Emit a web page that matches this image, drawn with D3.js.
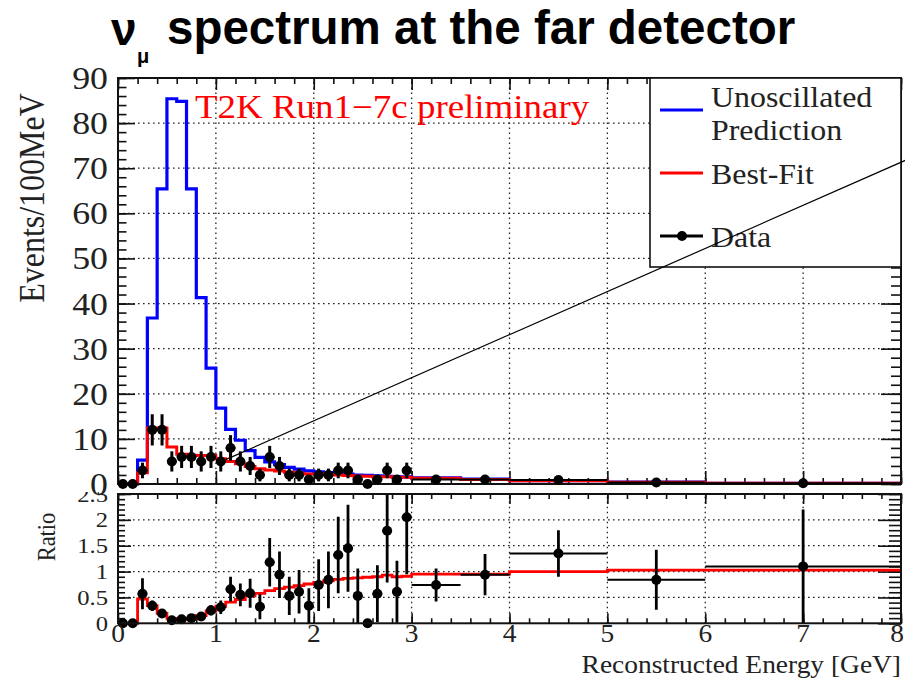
<!DOCTYPE html>
<html><head><meta charset="utf-8">
<script src="https://cdn.jsdelivr.net/npm/d3@7"></script>
<style>body{margin:0;background:#fff}</style>
</head><body><svg id="c" width="905" height="681" xmlns="http://www.w3.org/2000/svg"></svg>
<script>
// ---------------- data ----------------
const binEdges = [0,0.1,0.2,0.3,0.4,0.5,0.6,0.7,0.8,0.9,1.0,1.1,1.2,1.3,1.4,1.5,1.6,1.7,1.8,1.9,2.0,2.1,2.2,2.3,2.4,2.5,2.6,2.7,2.8,2.9,3.0,3.5,4.0,5.0,6.0,8.0];
const unoscillated = [0,0,5.3,36.8,65.4,85.4,84.8,65.4,41.3,25.7,16.8,12.1,9.7,7.4,5.9,4.9,4.3,3.7,3.3,2.9,2.7,2.5,2.3,2.2,2.0,1.9,1.8,1.7,1.6,1.6,1.35,1.06,0.72,0.4,0.15];
const bestFit = [0,0,2.5,12.4,12.4,8.2,6.6,6.4,6.3,6.3,5.6,5.0,4.5,3.9,3.4,3.1,2.9,2.6,2.4,2.2,2.2,2.1,2.0,1.9,1.8,1.7,1.6,1.6,1.5,1.5,1.27,1.0,0.7,0.4,0.16];
const dataCounts = [0,0,3,12,12,5,6,6,5,6,5,8,5,4,2,6,4,2,2,1,2,2,3,3,1,0,1,3,1,3,1.0,1.0,0.9,0.34,0.17];
const dataErrors = [0,0,1.73,3.46,3.46,2.24,2.45,2.45,2.24,2.45,2.24,2.83,2.24,2.0,1.41,2.45,2.0,1.41,1.41,1.0,1.41,1.41,1.73,1.73,1.0,0,1.0,1.73,1.0,1.73,0.45,0.45,0.3,0.19,0.09];
const ratioData = [0,0,0.57,0.34,0.19,0.06,0.08,0.1,0.13,0.25,0.31,0.66,0.55,0.58,0.32,1.18,0.94,0.53,0.61,0.34,0.74,0.84,1.32,1.45,0.53,0,0.57,1.79,0.61,2.05,0.74,0.94,1.35,0.84,1.1];
const ratioErrors = [0,0,0.3,0.1,0.06,0.03,0.03,0.04,0.05,0.1,0.13,0.24,0.22,0.28,0.24,0.47,0.45,0.37,0.42,0.34,0.5,0.55,0.74,0.84,0.53,0,0.55,1.0,0.6,1.1,0.32,0.4,0.45,0.58,1.1];
const ratioBestFit = [0,0,0.47,0.34,0.19,0.096,0.078,0.098,0.15,0.24,0.33,0.41,0.46,0.53,0.58,0.63,0.67,0.7,0.73,0.76,0.79,0.82,0.85,0.87,0.88,0.89,0.9,0.93,0.9,0.91,0.95,0.95,1.0,1.03,1.03];
const xTicks = [0,1,2,3,4,5,6,7,8];
const yTicksMain = [0,10,20,30,40,50,60,70,80,90];
const yTicksRatio = [0,0.5,1,1.5,2,2.5];
const yTickLabelsRatio = ["0","0.5","1","1.5","2","2.5"];
const legendLabels = [["Unoscillated","Prediction"],["Best-Fit"],["Data"]];
const legendColors = ["#0000ff","#ff0000","#000000"];
const guideLine = [[1.1,5.4],[8.05,71.8]];

// ---------------- layout ----------------
const svg = d3.select("#c");
const SX = 1.12;
const serif = "'Liberation Serif','Times New Roman',serif";
const x = d3.scaleLinear([0,8],[118,901]);
const yM = d3.scaleLinear([0,90],[484,78]);
const yR = d3.scaleLinear([0,2.5],[623.3,494]);

function stext(g, px, py, str, size, anchor, color, rot) {
  return g.append("text")
    .attr("transform", `translate(${px},${py}) scale(${SX},1)` + (rot ? ` rotate(${rot})` : ""))
    .attr("text-anchor", anchor || "start")
    .attr("font-family", serif).attr("font-size", size)
    .attr("fill", color || "#222").text(str);
}

const bins = d3.range(binEdges.length - 1).map(i => ({
  lo: binEdges[i], hi: binEdges[i+1], c: (binEdges[i] + binEdges[i+1]) / 2, i
}));

function stepPath(vals, ys) {
  const pts = bins.map(b => [b.lo, vals[b.i]]);
  pts.push([binEdges[binEdges.length-1], vals[vals.length-1]]);
  return d3.line().x(d => x(d[0])).y(d => ys(d[1])).curve(d3.curveStepAfter)(pts);
}

// ---------------- title ----------------
const title = svg.append("g").attr("font-family","'Liberation Sans',Arial,sans-serif").attr("font-weight","bold").attr("fill","#000");
title.append("text").attr("x",111).attr("y",45).attr("font-size",46).text("ν");
title.append("text").attr("x",137).attr("y",63).attr("font-size",20).text("μ");
title.append("text").attr("x",167).attr("y",44).attr("font-size",47.5).text("spectrum at the far detector");

// ---------------- grids ----------------
function grid(g, ys, yvals, y0, y1) {
  g.selectAll(".gv").data(xTicks.slice(1,-1)).join("line")
    .attr("x1", d => x(d)).attr("x2", d => x(d)).attr("y1", y0).attr("y2", y1)
    .attr("stroke","#222").attr("stroke-width",1.3).attr("stroke-dasharray","1.6,3.4");
  g.selectAll(".gh").data(yvals).join("line")
    .attr("x1", x(0)).attr("x2", x(8)).attr("y1", d => ys(d)).attr("y2", d => ys(d))
    .attr("stroke","#222").attr("stroke-width",1.3).attr("stroke-dasharray","1.6,3.4");
}
grid(svg.append("g"), yM, yTicksMain.slice(1,-1), yM(0), yM(90));
grid(svg.append("g"), yR, yTicksRatio.slice(1,-1), yR(0), yR(2.5));

// ---------------- axes ticks ----------------
function ticks(g, axisGen) { g.call(axisGen); g.select(".domain").remove(); g.selectAll("line").attr("stroke","#111").attr("stroke-width",1.6); g.selectAll("text").remove(); }
const gm = svg.append("g");
// main panel
ticks(gm.append("g").attr("transform",`translate(${x(0)},0)`), d3.axisLeft(yM).tickValues(yTicksMain).tickSize(-17));
ticks(gm.append("g").attr("transform",`translate(${x(0)},0)`), d3.axisLeft(yM).tickValues(d3.range(0,90.01,2)).tickSize(-8.5));
ticks(gm.append("g").attr("transform",`translate(${x(8)},0)`), d3.axisRight(yM).tickValues(yTicksMain).tickSize(-20));
ticks(gm.append("g").attr("transform",`translate(${x(8)},0)`), d3.axisRight(yM).tickValues(d3.range(0,90.01,2)).tickSize(-10));
ticks(gm.append("g").attr("transform",`translate(0,${yM(0)})`), d3.axisBottom(x).tickValues(xTicks).tickSize(-13));
ticks(gm.append("g").attr("transform",`translate(0,${yM(0)})`), d3.axisBottom(x).tickValues(d3.range(0,8.01,0.2)).tickSize(-6));
ticks(gm.append("g").attr("transform",`translate(0,${yM(90)})`), d3.axisTop(x).tickValues(xTicks).tickSize(-12));
ticks(gm.append("g").attr("transform",`translate(0,${yM(90)})`), d3.axisTop(x).tickValues(d3.range(0,8.01,0.2)).tickSize(-6));
// ratio panel
ticks(gm.append("g").attr("transform",`translate(${x(0)},0)`), d3.axisLeft(yR).tickValues(yTicksRatio).tickSize(-13));
ticks(gm.append("g").attr("transform",`translate(${x(0)},0)`), d3.axisLeft(yR).tickValues(d3.range(0,2.501,0.1)).tickSize(-7));
ticks(gm.append("g").attr("transform",`translate(${x(8)},0)`), d3.axisRight(yR).tickValues(yTicksRatio).tickSize(-23));
ticks(gm.append("g").attr("transform",`translate(${x(8)},0)`), d3.axisRight(yR).tickValues(d3.range(0,2.501,0.1)).tickSize(-12));
ticks(gm.append("g").attr("transform",`translate(0,${yR(0)})`), d3.axisBottom(x).tickValues(xTicks).tickSize(-10));
ticks(gm.append("g").attr("transform",`translate(0,${yR(0)})`), d3.axisBottom(x).tickValues(d3.range(0,8.01,0.2)).tickSize(-5));
ticks(gm.append("g").attr("transform",`translate(0,${yR(2.5)})`), d3.axisTop(x).tickValues(xTicks).tickSize(-10));
ticks(gm.append("g").attr("transform",`translate(0,${yR(2.5)})`), d3.axisTop(x).tickValues(d3.range(0,8.01,0.2)).tickSize(-5));

// ---------------- histograms ----------------
svg.append("path").attr("d", stepPath(unoscillated, yM)).attr("fill","none").attr("stroke","#0000ff").attr("stroke-width",3.2);
svg.append("path").attr("d", stepPath(bestFit, yM)).attr("fill","none").attr("stroke","#ff0000").attr("stroke-width",3);

// clip for ratio
svg.append("clipPath").attr("id","rclip").append("rect").attr("x",x(0)).attr("y",yR(2.5)).attr("width",x(8)-x(0)).attr("height",yR(0)-yR(2.5)+6);
svg.append("clipPath").attr("id","lclip").append("rect").attr("x",0).attr("y",492).attr("width",118).attr("height",150);
const rg = svg.append("g").attr("clip-path","url(#rclip)");
rg.append("path").attr("d", stepPath(ratioBestFit, yR)).attr("fill","none").attr("stroke","#ff0000").attr("stroke-width",2.8);

// ---------------- frames ----------------
svg.append("rect").attr("x",x(0)).attr("y",yM(90)).attr("width",x(8)-x(0)).attr("height",yM(0)-yM(90)).attr("fill","none").attr("stroke","#111").attr("stroke-width",2);
svg.append("rect").attr("x",x(0)).attr("y",yR(2.5)).attr("width",x(8)-x(0)).attr("height",yR(0)-yR(2.5)).attr("fill","none").attr("stroke","#111").attr("stroke-width",2);

// ---------------- data points ----------------
function drawPoints(g, vals, errs, ys, vw) {
  bins.forEach(b => {
    const v = vals[b.i], e = errs[b.i];
    if (e > 0) {
      g.append("line").attr("x1", x(b.c)).attr("x2", x(b.c)).attr("y1", ys(Math.max(0, v - e))).attr("y2", ys(v + e))
        .attr("stroke","#000").attr("stroke-width", vw);
      g.append("line").attr("x1", x(b.lo)).attr("x2", x(b.hi)).attr("y1", ys(v)).attr("y2", ys(v))
        .attr("stroke","#000").attr("stroke-width", 2);
    }
    g.append("circle").attr("cx", x(b.c)).attr("cy", ys(v)).attr("r", 5).attr("fill","#000");
  });
}
drawPoints(svg.append("g"), dataCounts, dataErrors, yM, 3);
drawPoints(rg.append("g"), ratioData, ratioErrors, yR, 2.8);

// ---------------- tick labels ----------------
const lab = svg.append("g");
yTicksMain.forEach(t => stext(lab, 108, yM(t) + 11, String(t), 32, "end"));
const rl = svg.append("g").attr("clip-path","url(#lclip)");
yTicksRatio.forEach((t,i) => stext(rl, 108, yR(t) + 7.5, yTickLabelsRatio[i], 22, "end"));
xTicks.forEach(t => stext(lab, Math.min(x(t), 897), 642, String(t), 24.5, "middle"));

// axis titles
stext(svg, 44, 198, "Events/100MeV", 32, "middle", "#222", -90);
stext(svg, 55, 537, "Ratio", 22.5, "middle", "#222", -90);
stext(svg, 901, 673, "Reconstructed Energy [GeV]", 24.5, "end");

// preliminary label
stext(svg, 195, 118, "T2K Run1\u22127c preliminary", 33, "start", "#ff0000");

// ---------------- legend ----------------
const lg = svg.append("g");
lg.append("rect").attr("x",650).attr("y",yM(90)).attr("width",x(8)-650).attr("height",189).attr("fill","#fff").attr("stroke","#111").attr("stroke-width",1.6);
const legendRows = [{ly:110, ty:[107,140]},{ly:173, ty:[184]},{ly:236, ty:[247]}];
legendRows.forEach((r,i) => {
  lg.append("line").attr("x1",660).attr("x2",703).attr("y1",r.ly).attr("y2",r.ly).attr("stroke",legendColors[i]).attr("stroke-width",3);
  legendLabels[i].forEach((s,j) => stext(lg, 711, r.ty[j], s, 28.5, "start"));
});
lg.append("circle").attr("cx",682).attr("cy",236).attr("r",5).attr("fill","#000");

// ---------------- guide line ----------------
svg.append("line").attr("x1", x(guideLine[0][0])).attr("y1", yM(guideLine[0][1])).attr("x2", x(guideLine[1][0])).attr("y2", yM(guideLine[1][1]))
  .attr("stroke","#000").attr("stroke-width",1.2);
</script></body></html>
